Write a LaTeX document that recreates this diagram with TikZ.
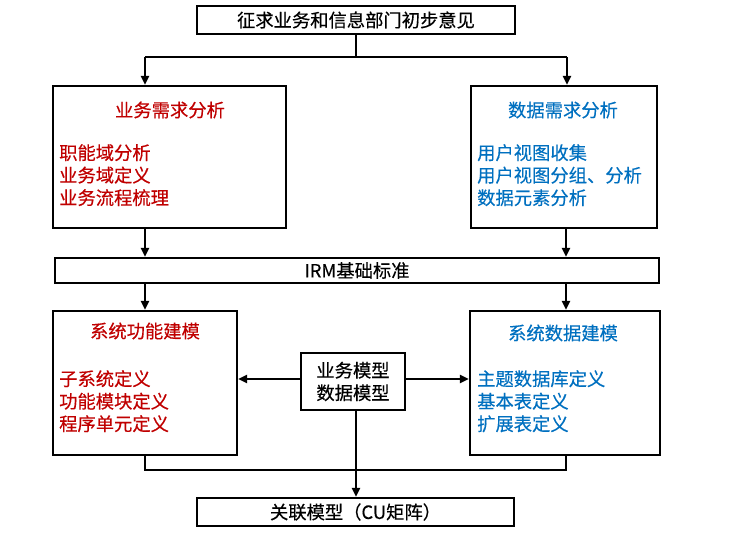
\documentclass[tikz,border=0pt]{standalone}
\usepackage{fontspec}
\setmainfont{Noto Sans CJK SC}[FakeBold=0.35]
\usetikzlibrary{arrows.meta}
\definecolor{cred}{RGB}{192,0,0}
\definecolor{cblue}{RGB}{0,112,192}
\begin{document}
\begin{tikzpicture}[x=1pt,y=-1pt,
  box/.style={draw=black,line width=2.2pt,fill=white,inner sep=0pt},
  lbl/.style={inner sep=0pt,font=\fontsize{18.3}{22.5}\selectfont},
  conn/.style={line width=2.2pt},
  arr/.style={line width=2.2pt,-{Triangle[length=9pt,width=8pt]}}]
\useasboundingbox (0,0) rectangle (755,533);
% boxes
\node[box,minimum width=318pt,minimum height=28pt] (top) at (356,20) {};
\node[box,minimum width=233pt,minimum height=142pt] (ba) at (169.5,157) {};
\node[box,minimum width=186pt,minimum height=142pt] (da) at (564,157) {};
\node[box,minimum width=604pt,minimum height=25pt] (irm) at (357,270.5) {};
\node[box,minimum width=184pt,minimum height=144pt] (fm) at (145,383) {};
\node[box,minimum width=190pt,minimum height=144pt] (dm) at (565,383) {};
\node[box,minimum width=104pt,minimum height=57pt] (mid) at (353,381.5) {};
\node[box,minimum width=317pt,minimum height=28pt] (bot) at (355.5,512) {};
% texts
\node[lbl] (ttop) at (top) {征求业务和信息部门初步意见};
\node[lbl,text=cred] (tba) at (170,110) {业务需求分析};
\node[lbl,text=cred,anchor=north west,align=left] (iba) at (59,144) {职能域分析\\业务域定义\\业务流程梳理};
\node[lbl,text=cblue] (tda) at (563,110) {数据需求分析};
\node[lbl,text=cblue,anchor=north west,align=left] (ida) at (477,144) {用户视图收集\\用户视图分组、分析\\数据元素分析};
\node[lbl] (tirm) at (irm) {IRM基础标准};
\node[lbl,text=cred] (tfm) at (145,331) {系统功能建模};
\node[lbl,text=cred,anchor=north west,align=left] (ifm) at (59,370) {子系统定义\\功能模块定义\\程序单元定义};
\node[lbl,text=cblue] (tdm) at (563,333) {系统数据建模};
\node[lbl,text=cblue,anchor=north west,align=left] (idm) at (477,370) {主题数据库定义\\基本表定义\\扩展表定义};
\node[lbl,align=center] (tmid) at (mid) {业务模型\\数据模型};
\node[lbl] (tbot) at (bot) {关联模型（CU矩阵）};
% connectors
\coordinate (j1) at (356,57);
\coordinate (jl) at (145,57);
\coordinate (jr) at (567,57);
\draw[conn] (top.south) -- (j1);
\draw[conn] (jl) -- (jr);
\draw[arr] (jl) -- (ba.north -| jl);
\draw[arr] (jr) -- (da.north -| jr);
\coordinate (xl) at (145,0);
\coordinate (xr) at (566,0);
\draw[arr] (ba.south -| xl) -- (irm.north -| xl);
\draw[arr] (da.south -| xr) -- (irm.north -| xr);
\draw[arr] (irm.south -| xl) -- (fm.north -| xl);
\draw[arr] (irm.south -| xr) -- (dm.north -| xr);
\coordinate (ym) at (0,379);
\draw[arr] (mid.west |- ym) -- (fm.east |- ym);
\draw[arr] (mid.east |- ym) -- (dm.west |- ym);
\coordinate (j2) at (145,470);
\coordinate (j3) at (566,470);
\draw[conn] (fm.south -| j2) -- (j2) -- (j3) -- (dm.south -| j3);
\coordinate (xm) at (356,0);
\draw[arr] (mid.south -| xm) -- (bot.north -| xm);
\end{tikzpicture}
\end{document}
